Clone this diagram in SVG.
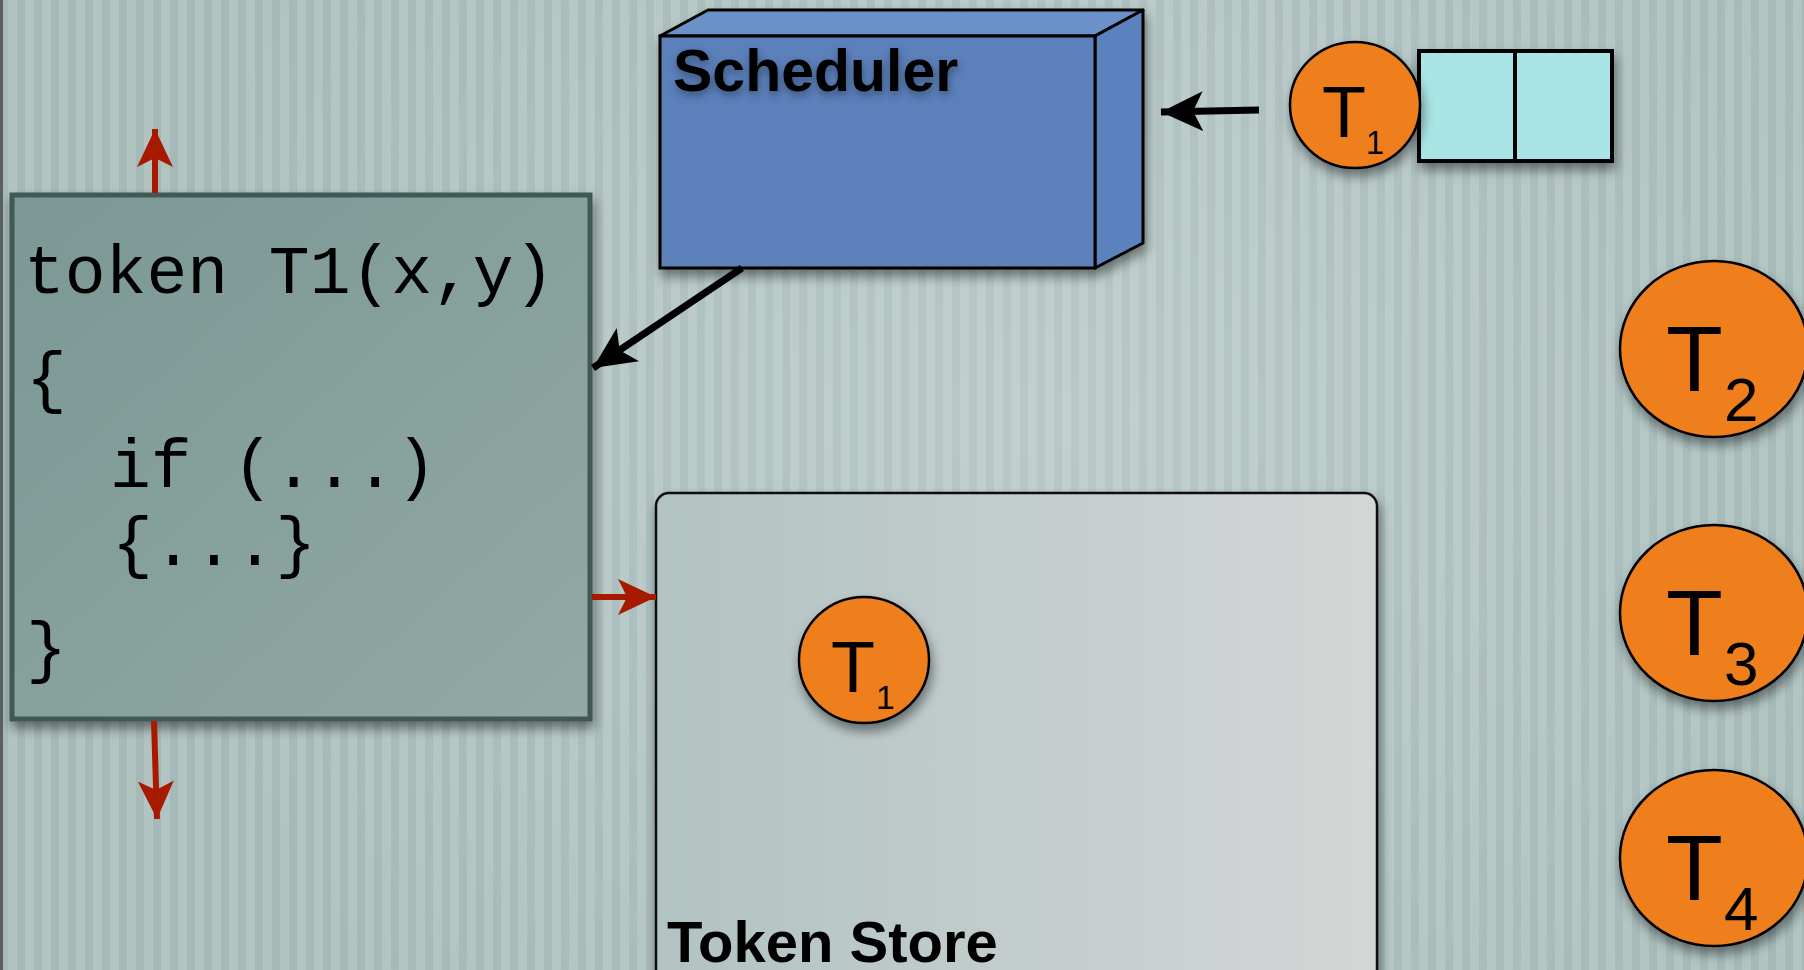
<svg xmlns="http://www.w3.org/2000/svg" width="1804" height="970" viewBox="0 0 1804 970">
<defs>
<pattern id="stripes" x="0" y="0" width="17" height="970" patternUnits="userSpaceOnUse">
<rect x="0" y="0" width="17" height="970" fill="#a4b9b8"/>
<rect x="8" y="0" width="9" height="970" fill="#b1c4c2"/>
</pattern>
<radialGradient id="glow" cx="1050" cy="420" r="900" gradientUnits="userSpaceOnUse">
<stop offset="0" stop-color="#ffffff" stop-opacity="0.22"/>
<stop offset="0.6" stop-color="#ffffff" stop-opacity="0.08"/>
<stop offset="1" stop-color="#ffffff" stop-opacity="0"/>
</radialGradient>
<linearGradient id="codeFill" x1="0" y1="0" x2="1" y2="1">
<stop offset="0" stop-color="#7b9894"/>
<stop offset="1" stop-color="#92a9a4"/>
</linearGradient>
<linearGradient id="storeFill" x1="0" y1="0" x2="1" y2="0">
<stop offset="0" stop-color="#b1c3c2"/>
<stop offset="1" stop-color="#d5d6d6"/>
</linearGradient>
<filter id="shadow" x="-20%" y="-20%" width="140%" height="150%">
<feDropShadow dx="2" dy="7" stdDeviation="6" flood-color="#000" flood-opacity="0.45"/>
</filter>
<filter id="tshadow" x="-10%" y="-30%" width="120%" height="170%">
<feDropShadow dx="1" dy="4" stdDeviation="4" flood-color="#000" flood-opacity="0.35"/>
</filter>
<marker id="redHead" markerWidth="42" markerHeight="40" refX="38" refY="20" orient="auto" markerUnits="userSpaceOnUse">
<path d="M0,2 L38,20 L0,38 L9,20 Z" fill="#a81a00"/>
</marker>
<marker id="blackHead" markerWidth="46" markerHeight="44" refX="42" refY="22" orient="auto" markerUnits="userSpaceOnUse">
<path d="M0,2 L42,22 L0,42 L10,22 Z" fill="#000"/>
</marker>
</defs>
<style>
.tok{fill:#ef7f1e;stroke:#000;stroke-width:2.5}
.tl{font-family:"Liberation Sans",Arial,sans-serif;fill:#000}
.code{font-family:"Liberation Mono","Courier New",monospace;font-size:68px;fill:#000}
.red{stroke:#a81a00;stroke-width:6;fill:none}
.blk{stroke:#000;stroke-width:7;fill:none}
</style>

<rect x="0" y="0" width="1804" height="970" fill="url(#stripes)"/>
<rect x="0" y="0" width="1804" height="970" fill="url(#glow)"/>
<rect x="0" y="0" width="3" height="970" fill="#5a5f60"/>

<g id="scheduler" filter="url(#shadow)">
<polygon points="660,36 708,10 1143,10 1095,36" fill="#6b92c9" stroke="#000" stroke-width="3" stroke-linejoin="round"/>
<polygon points="1095,36 1143,10 1143,243 1095,268" fill="#5a82be" stroke="#000" stroke-width="3" stroke-linejoin="round"/>
<rect x="660" y="36" width="435" height="232" fill="#5b80ba" stroke="#000" stroke-width="3"/>
<text x="673" y="91" class="tl" font-size="59" font-weight="bold" filter="url(#tshadow)">Scheduler</text>
</g>

<g id="code" filter="url(#shadow)">
<rect x="12" y="195" width="578" height="524" fill="url(#codeFill)" stroke="#3f5856" stroke-width="5"/>
<text x="24" y="293" class="code">token T1(x,y)</text>
<text x="26" y="400" class="code">{</text>
<text x="110" y="487" class="code">if (...)</text>
<text x="112" y="565" class="code">{...}</text>
<text x="26" y="670" class="code">}</text>
</g>

<g id="tokenstore" filter="url(#shadow)">
<rect x="656" y="493" width="721" height="500" rx="13" fill="url(#storeFill)" stroke="#111" stroke-width="2.5"/>
<text x="667" y="962" class="tl" font-size="58" font-weight="bold">Token Store</text>
</g>

<g id="t1store" filter="url(#shadow)">
<ellipse cx="864" cy="660" rx="65" ry="63" class="tok"/>
<text x="831" y="692" class="tl" font-size="72">T</text>
<text x="876" y="709" class="tl" font-size="34">1</text>
</g>

<g id="queue" filter="url(#shadow)">
<rect x="1419" y="51" width="193" height="110" fill="#a9e5e6" stroke="#000" stroke-width="4"/>
<line x1="1515" y1="51" x2="1515" y2="161" stroke="#000" stroke-width="4"/>
</g>

<g id="t1queue" filter="url(#shadow)">
<ellipse cx="1355" cy="105" rx="65" ry="63" class="tok"/>
<text x="1322" y="137" class="tl" font-size="72">T</text>
<text x="1366" y="154" class="tl" font-size="33">1</text>
</g>

<g id="t2" filter="url(#shadow)">
<ellipse cx="1714" cy="349" rx="94" ry="88" class="tok"/>
<text x="1666" y="391" class="tl" font-size="93">T</text>
<text x="1724" y="421" class="tl" font-size="62">2</text>
</g>

<g id="t3" filter="url(#shadow)">
<ellipse cx="1714" cy="613" rx="94" ry="88" class="tok"/>
<text x="1666" y="655" class="tl" font-size="93">T</text>
<text x="1724" y="685" class="tl" font-size="62">3</text>
</g>

<g id="t4" filter="url(#shadow)">
<ellipse cx="1714" cy="858" rx="94" ry="88" class="tok"/>
<text x="1666" y="900" class="tl" font-size="93">T</text>
<text x="1724" y="930" class="tl" font-size="62">4</text>
</g>

<g id="connectors">
<line x1="155" y1="193" x2="155" y2="129" class="red" marker-end="url(#redHead)"/>
<line x1="154" y1="721" x2="157" y2="819" class="red" marker-end="url(#redHead)"/>
<line x1="592" y1="597" x2="656" y2="597" class="red" marker-end="url(#redHead)"/>
<line x1="742" y1="268" x2="593" y2="368" class="blk" stroke-width="6" marker-end="url(#blackHead)"/>
<line x1="1259" y1="110" x2="1161" y2="112" class="blk" marker-end="url(#blackHead)"/>
</g>
</svg>
